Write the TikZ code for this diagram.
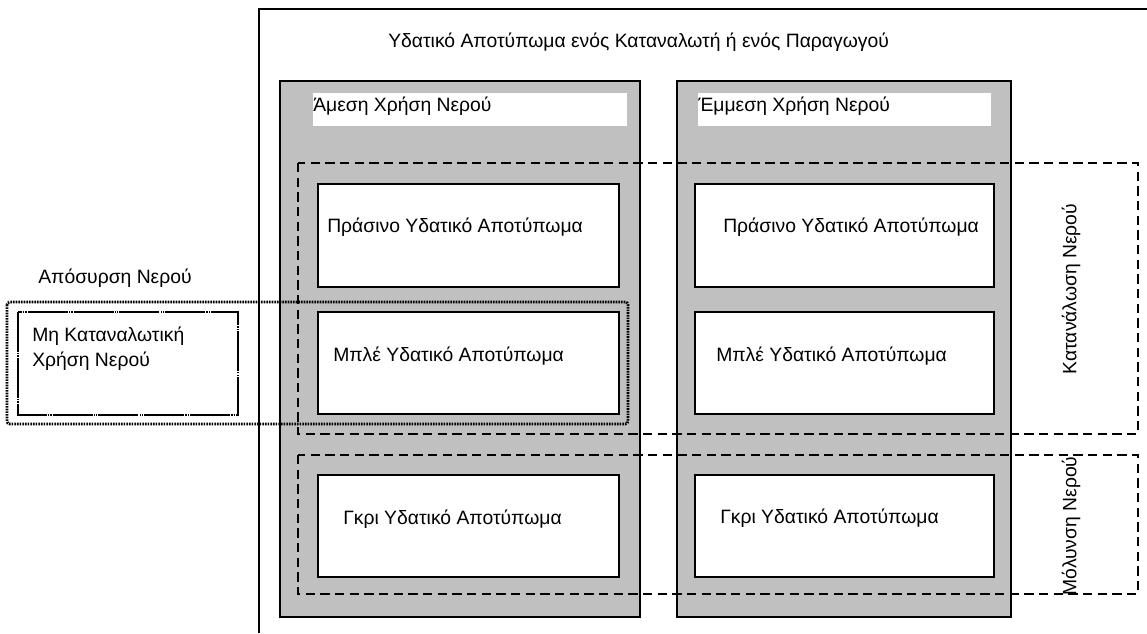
\documentclass[tikz,border=0pt]{standalone}
\usepackage{fontspec}
\setmainfont{Liberation Sans}
\definecolor{panelgray}{RGB}{192,192,192}
\tikzset{
  frame/.style={draw=black, line width=2pt},
  panel/.style={draw=black, line width=2pt, fill=panelgray},
  labelbox/.style={fill=white, draw=none},
  whitebox/.style={draw=black, line width=2pt, fill=white},
  dashbox/.style={draw=black, line width=2pt, dash pattern=on 7pt off 4pt},
  dotbox/.style={draw=black, line width=2pt, dash pattern=on 1.2pt off 0.8pt, rounded corners=2pt},
  mixbox/.style={draw=black, line width=2.2pt, dash pattern=on 30pt off 0.8pt on 1pt off 0.8pt on 1pt off 0.8pt},
  txt/.style={anchor=west, inner sep=0pt, font=\fontsize{14.5}{17}\selectfont, text=black},
  vtxt/.style={inner sep=0pt, font=\fontsize{14.5}{17}\selectfont, text=black, rotate=90}
}
\begin{document}
\begin{tikzpicture}[x=0.75pt, y=-0.75pt]
\useasboundingbox (0,0) rectangle (1147,633);
\fill[white] (0,0) rectangle (1147,633);
% outer frame
\draw[frame] (1147,9) -- (259,9) -- (259,633);
% gray columns
\draw[panel] (280,81) rectangle (640,617);
\draw[panel] (677,81) rectangle (1011,617);
% header label boxes
\fill[labelbox] (313,93) rectangle (627,126);
\fill[labelbox] (698,93) rectangle (991,126);
% dashed groups
\draw[dashbox] (298,163) rectangle (1138,434);
\draw[dashbox] (298,455) rectangle (1138,594);
% inner white boxes
\draw[whitebox] (318,184) rectangle (619,287);
\draw[whitebox] (318,312) rectangle (619,414);
\draw[whitebox] (318,475) rectangle (619,577);
\draw[whitebox] (695,184) rectangle (994,287);
\draw[whitebox] (695,312) rectangle (994,414);
\draw[whitebox] (695,475) rectangle (994,577);
% withdrawal (dotted) group
\draw[dotbox] (7,302) rectangle (628,424);
\draw[mixbox] (18,312) rectangle (238,415);
% texts
\node[txt] (title) at (388,42) {Υδατικό Αποτύπωμα ενός Καταναλωτή ή ενός Παραγωγού};
\node[txt] (direct) at (313,106) {Άμεση Χρήση Νερού};
\node[txt] (indirect) at (698,106) {Έμμεση Χρήση Νερού};
\node[txt] (green1) at (327,227) {Πράσινο Υδατικό Αποτύπωμα};
\node[txt] (green2) at (723,227) {Πράσινο Υδατικό Αποτύπωμα};
\node[txt] (blue1) at (333,356) {Μπλέ Υδατικό Αποτύπωμα};
\node[txt] (blue2) at (716,356) {Μπλέ Υδατικό Αποτύπωμα};
\node[txt] (grey1) at (343,519) {Γκρι Υδατικό Αποτύπωμα};
\node[txt] (grey2) at (720,518) {Γκρι Υδατικό Αποτύπωμα};
\node[txt] (withdraw) at (38,278) {Απόσυρση Νερού};
\node[txt, align=left, font=\fontsize{14.5}{19}\selectfont] (noncons) at (32,349) {Μη Καταναλωτική\\Χρήση Νερού};
\node[vtxt] (consum) at (1071,289) {Κατανάλωση Νερού};
\node[vtxt] (pollut) at (1071,526) {Μόλυνση Νερού};
\end{tikzpicture}
\end{document}
